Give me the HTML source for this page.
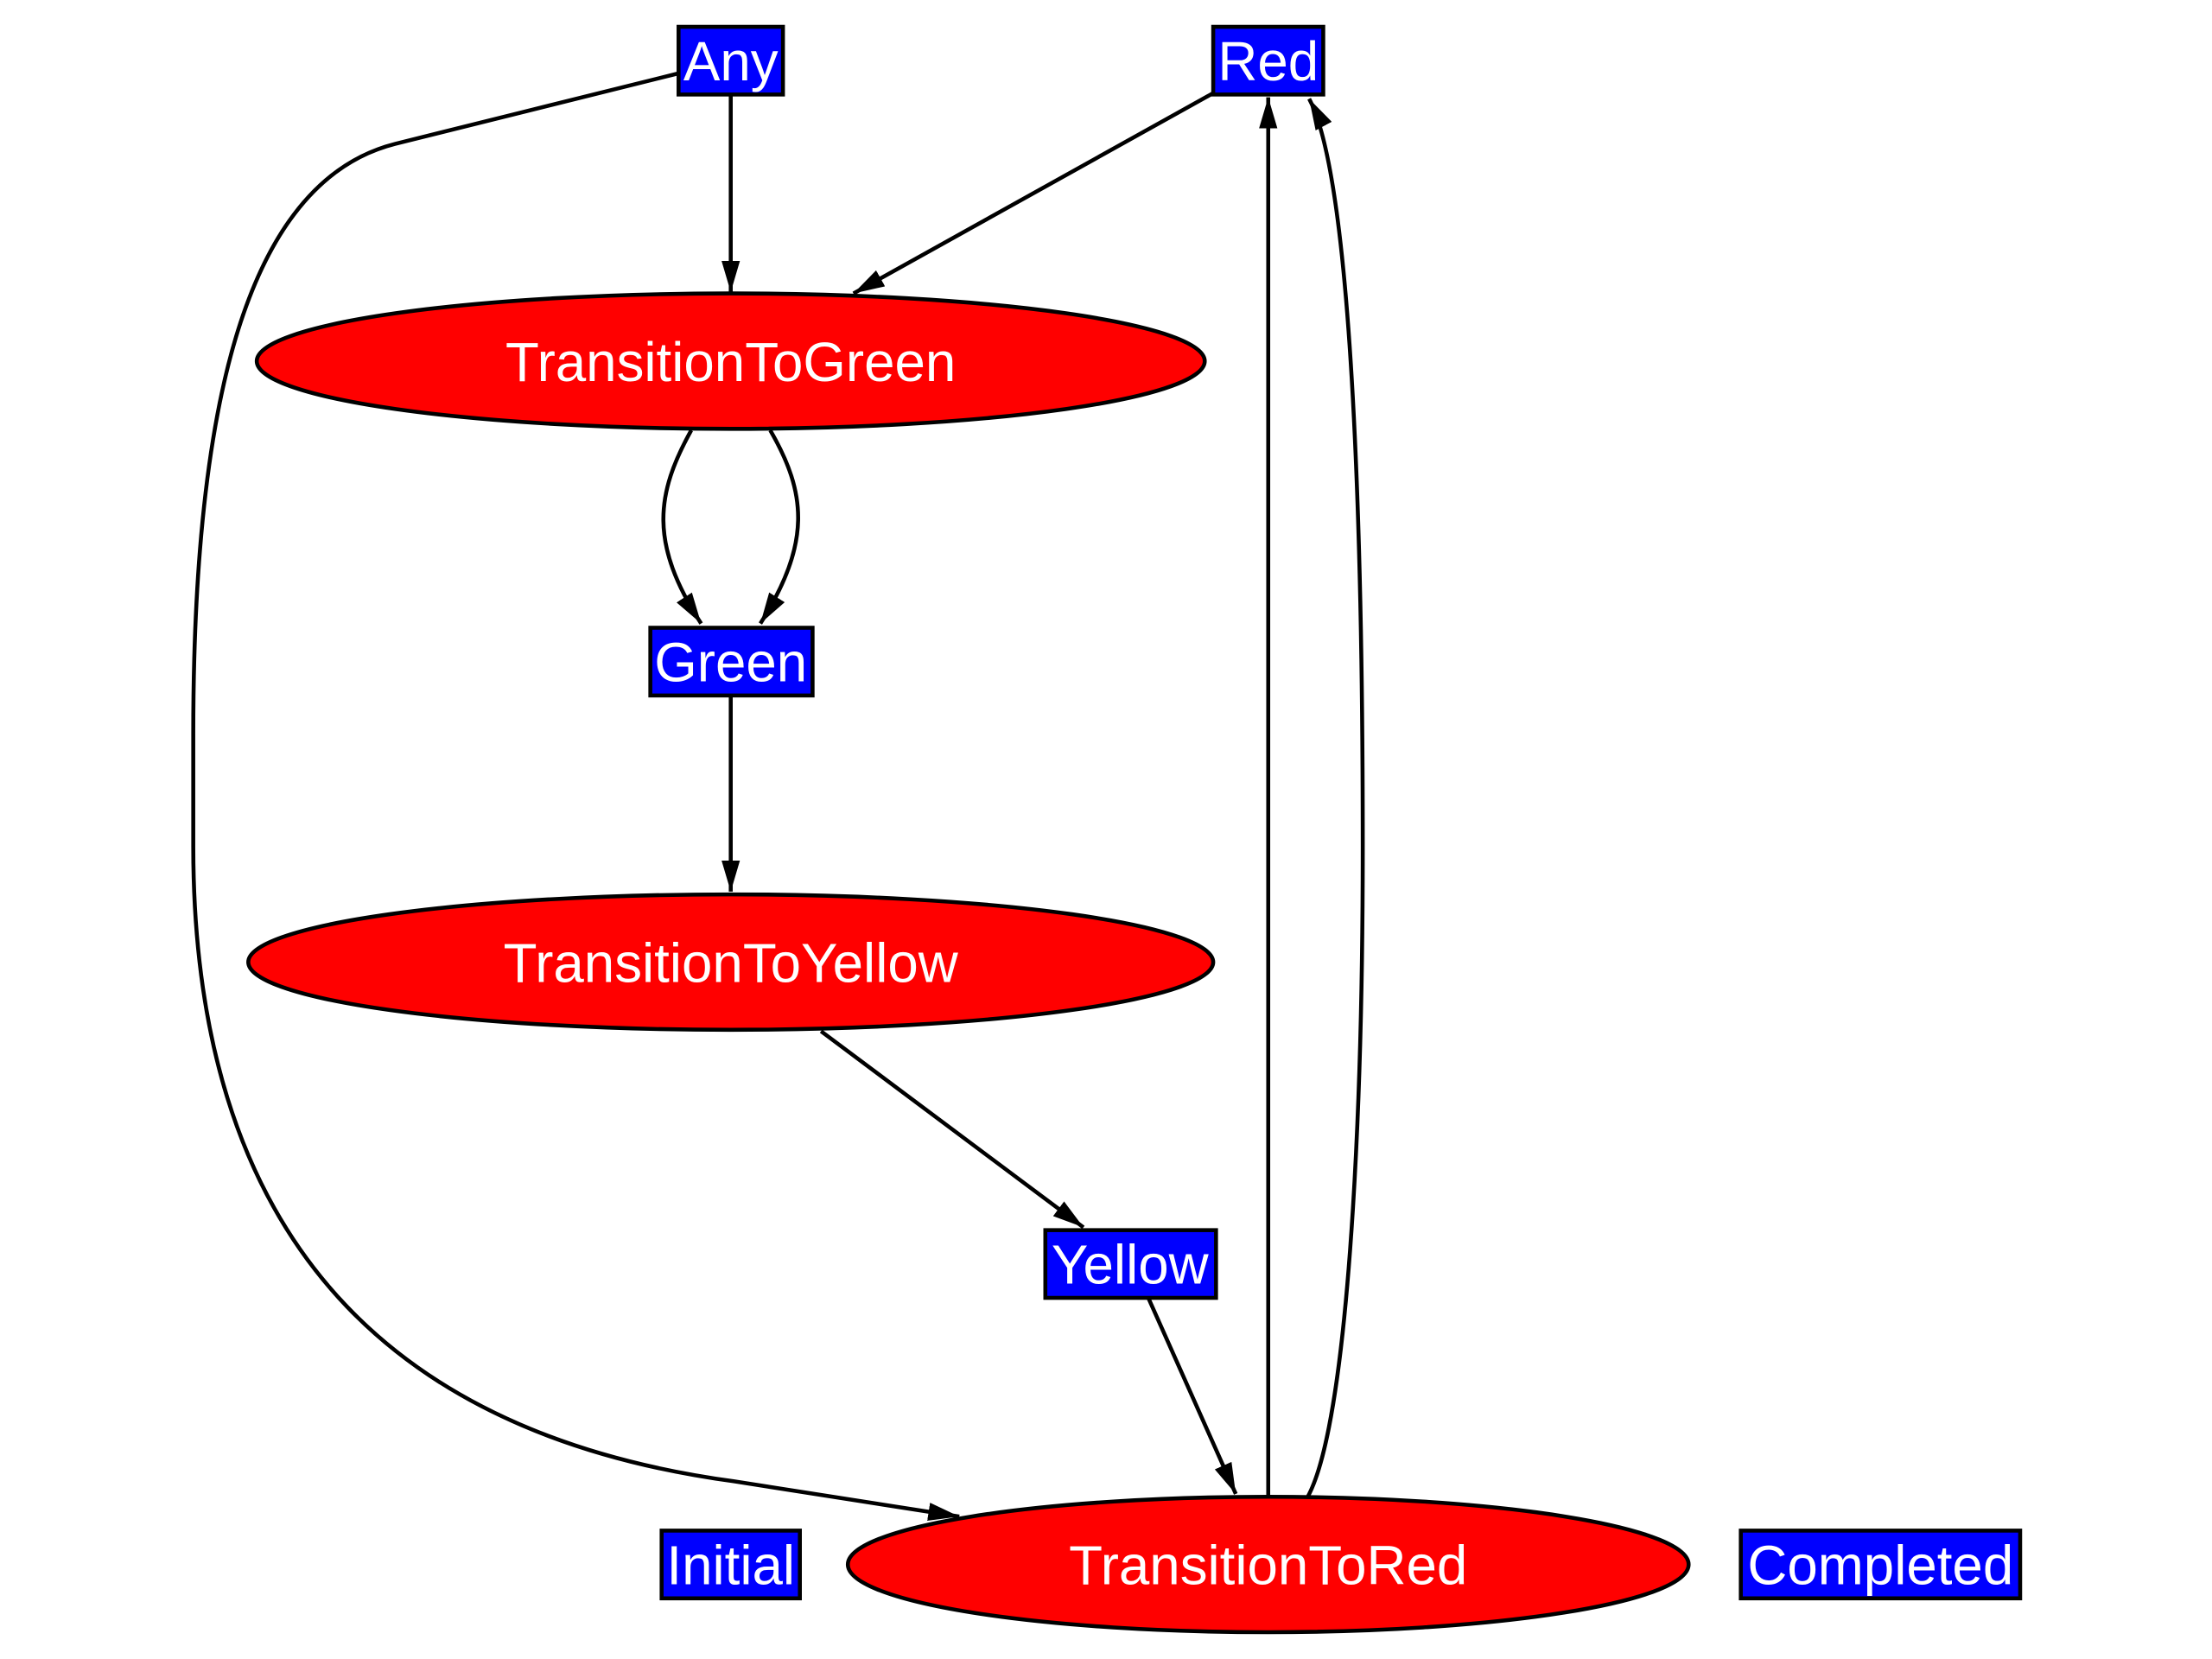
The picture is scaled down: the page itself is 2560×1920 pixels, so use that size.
<!DOCTYPE html>
<html><head><meta charset="utf-8"><style>
html,body{margin:0;padding:0;background:#fff;}
svg{display:block;}
text{font-family:"Liberation Sans",Arial,sans-serif;fill:#fff;font-size:39px;text-anchor:middle;}
</style></head><body>
<svg width="2560" height="1920" viewBox="0 0 1568 1176" preserveAspectRatio="none" xmlns="http://www.w3.org/2000/svg">
<defs>
<marker id="a" viewBox="0 0 22 13" refX="22" refY="6.5" markerWidth="22" markerHeight="13" markerUnits="userSpaceOnUse" orient="auto">
<path d="M0,0 L22,6.5 L0,13 z" fill="#000"/>
</marker>
</defs>
<g fill="none" stroke="#000" stroke-width="2.8">
<path d="M518,67 L518,207" marker-end="url(#a)"/>
<path d="M481,52 L280,102 C170,130 137,300 137,520 L137,600 C137,900 300,1020 520,1050 L680,1075" marker-end="url(#a)"/>
<path d="M860,66 L605,208" marker-end="url(#a)"/>
<path d="M490,305 C465,350 460,385 497,442" marker-end="url(#a)"/>
<path d="M546,305 C572,350 575,385 539,442" marker-end="url(#a)"/>
<path d="M518,493 L518,632" marker-end="url(#a)"/>
<path d="M582,731 L768,870" marker-end="url(#a)"/>
<path d="M814,920 L876,1059" marker-end="url(#a)"/>
<path d="M899,1061 L899,69" marker-end="url(#a)"/>
<path d="M927,1061 C955,1010 966,800 966,600 C966,400 960,130 928,70" marker-end="url(#a)"/>
</g>
<g stroke="#000" stroke-width="2.8">
<rect x="481" y="19" width="74" height="48" fill="#00f"/>
<rect x="860" y="19" width="78" height="48" fill="#00f"/>
<ellipse cx="518" cy="256" rx="336" ry="48" fill="#f00"/>
<rect x="461" y="445" width="115" height="48" fill="#00f"/>
<ellipse cx="518" cy="682" rx="342" ry="48" fill="#f00"/>
<rect x="741" y="872" width="121" height="48" fill="#00f"/>
<ellipse cx="899" cy="1109" rx="298" ry="48" fill="#f00"/>
<rect x="469" y="1085" width="98" height="48" fill="#00f"/>
<rect x="1234" y="1085" width="198" height="48" fill="#00f"/>
</g>
<text x="518" y="57">Any</text>
<text x="899" y="57">Red</text>
<text x="518" y="270">TransitionToGreen</text>
<text x="518" y="483">Green</text>
<text x="518" y="696">TransitionToYellow</text>
<text x="801" y="910">Yellow</text>
<text x="899" y="1123">TransitionToRed</text>
<text x="518" y="1123">Initial</text>
<text x="1333" y="1123">Completed</text>
</svg>
</body></html>
